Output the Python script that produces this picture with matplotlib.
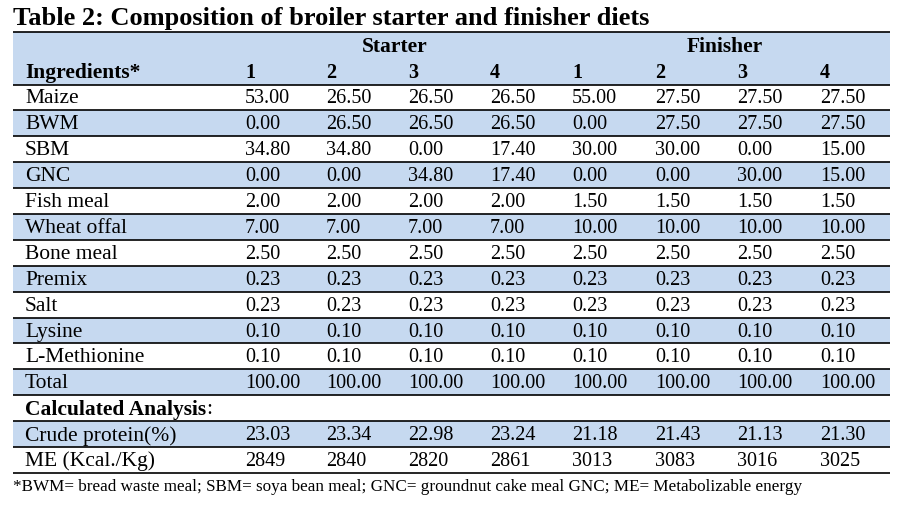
import matplotlib.pyplot as plt
from matplotlib.patches import Rectangle

title = "Table 2: Composition of broiler starter and finisher diets"
groups = ["Starter", "Finisher"]
diet_labels = ["1", "2", "3", "4", "1", "2", "3", "4"]

ingredients = ["Maize", "BWM", "SBM", "GNC", "Fish meal", "Wheat offal", "Bone meal",
               "Premix", "Salt", "Lysine", "L-Methionine", "Total"]
maize = ["53.00", "26.50", "26.50", "26.50", "55.00", "27.50", "27.50", "27.50"]
bwm = ["0.00", "26.50", "26.50", "26.50", "0.00", "27.50", "27.50", "27.50"]
sbm = ["34.80", "34.80", "0.00", "17.40", "30.00", "30.00", "0.00", "15.00"]
gnc = ["0.00", "0.00", "34.80", "17.40", "0.00", "0.00", "30.00", "15.00"]
fish_meal = ["2.00", "2.00", "2.00", "2.00", "1.50", "1.50", "1.50", "1.50"]
wheat_offal = ["7.00", "7.00", "7.00", "7.00", "10.00", "10.00", "10.00", "10.00"]
bone_meal = ["2.50"] * 8
premix = ["0.23"] * 8
salt = ["0.23"] * 8
lysine = ["0.10"] * 8
methionine = ["0.10"] * 8
total = ["100.00"] * 8

analysis_label = "Calculated Analysis"
analysis_rows = ["Crude protein(%)", "ME (Kcal./Kg)"]
crude_protein = ["23.03", "23.34", "22.98", "23.24", "21.18", "21.43", "21.13", "21.30"]
me = ["2849", "2840", "2820", "2861", "3013", "3083", "3016", "3025"]

footnote = ("*BWM= bread waste meal; SBM= soya bean meal; GNC= groundnut cake meal GNC; "
            "ME= Metabolizable energy")

plt.rcParams['font.family'] = ['Liberation Serif', 'DejaVu Serif']
blue = '#c6d9f0'

fig = plt.figure(figsize=(9.09, 5.10), dpi=100)
ax = fig.add_axes([0, 0, 1, 1])
ax.set_xlim(0, 909)
ax.set_ylim(510, 0)
ax.axis('off')

left, right = 13, 890
row_h = 25.9
label_x = 25
col_x = [245, 326, 408, 490, 572, 655, 737, 820]
fs = 14.5     # numbers
fs_lab = 15.5  # row labels

ax.text(left, 19, title, fontsize=19, fontweight='bold', va='center')

# header block
top = 33
hdr_bot = 85.5
ax.add_patch(Rectangle((left, top), right - left, hdr_bot - top, color=blue, lw=0))
ax.text(395, 47, groups[0], fontsize=fs_lab, fontweight='bold', ha='center', va='center')
ax.text(725, 47, groups[1], fontsize=fs_lab, fontweight='bold', ha='center', va='center')
ax.text(label_x, 73, "Ingredients*", fontsize=fs_lab, fontweight='bold', va='center')
for x, d in zip(col_x, diet_labels):
    ax.text(x, 73, d, fontsize=fs, fontweight='bold', va='center')

body = [maize, bwm, sbm, gnc, fish_meal, wheat_offal, bone_meal, premix, salt,
        lysine, methionine, total]
rows = list(zip(ingredients, body))
rows.append((None, None))
rows += list(zip(analysis_rows, [crude_protein, me]))

lines_y = [top, hdr_bot]
y = hdr_bot
for i, (name, vals) in enumerate(rows):
    y0 = y
    y1 = y + row_h
    if i % 2 == 1:
        ax.add_patch(Rectangle((left, y0), right - left, row_h, color=blue, lw=0))
    yc = (y0 + y1) / 2 + 0.5
    if name is None:
        t = ax.text(label_x, yc, analysis_label, fontsize=fs_lab, fontweight='bold', va='center')
        fig.canvas.draw()
        bb = t.get_window_extent().transformed(ax.transData.inverted())
        ax.text(bb.x1, yc, ":", fontsize=fs_lab, va='center')
    else:
        ax.text(label_x, yc, name, fontsize=fs_lab, va='center')
        for x, v in zip(col_x, vals):
            ax.text(x, yc, v, fontsize=fs, va='center')
    y = y1
    lines_y.append(y)

for ly in lines_y:
    ax.plot([left, right], [ly, ly], color='black', lw=1.2, solid_capstyle='butt')

ax.text(left, 487, footnote, fontsize=12.3, va='center')

fig.savefig('out.png', dpi=100)
